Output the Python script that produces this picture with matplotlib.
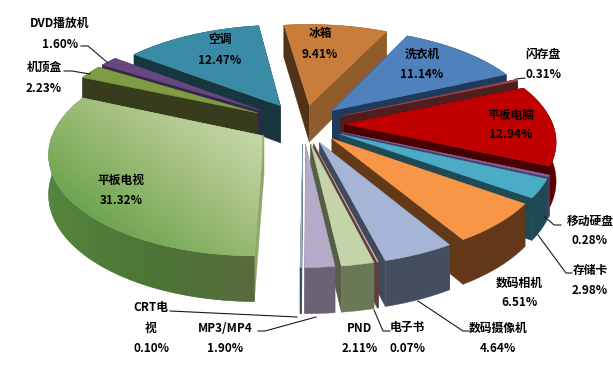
import numpy as np
import matplotlib
matplotlib.use("Agg")
import matplotlib.pyplot as plt
from matplotlib.patches import Polygon
from matplotlib.colors import LinearSegmentedColormap

plt.rcParams['font.family'] = ['Noto Sans CJK SC', 'DejaVu Sans']

categories = ['冰箱', '洗衣机', '闪存盘', '平板电脑', '移动硬盘', '存储卡', '数码相机', '数码摄像机',
              '电子书', 'PND', 'MP3/MP4', 'CRT电视', '平板电视', '机顶盒', 'DVD播放机', '空调']
values = [9.41, 11.14, 0.31, 12.94, 0.28, 2.98, 6.51, 4.64, 0.07, 2.11, 1.90, 0.10, 31.32, 2.23, 1.60, 12.47]
explode = [0.2, 0.2, 0.2, 0.2, 0.2, 0.2, 0.2, 0.2, 0.2, 0.2, 0.2, 0.2, 0.22, 0.25, 0.25, 0.22]
top_colors = ['#c87d3a', '#4f81bd', '#a04545', '#c00000', '#8064a2', '#4bacc6', '#f79646', '#a6b5d6',
              '#e0b0b0', '#c4d3a8', '#b5abc9', '#9db5d0', '#9aba78', '#7f9c45', '#64487f', '#3a8ba6']
face_colors = ['#4f3218', '#1f3a5f', '#4f1f1f', '#4a0000', '#4d3a66', '#1f4a55', '#63391a', '#3f4a5a',
               '#5e4040', '#555e47', '#6a6275', '#3a4a60', '#8fa868', '#363c1c', '#33264a', '#17363f']
end_face_colors = ['#8f5c2c', '#1f3a5f', '#4f1f1f', '#4a0000', '#4d3a66', '#1f4a55', '#63391a', '#3f4a5a',
                   '#5e4040', '#555e47', '#6a6275', '#3a4a60', '#8fa868', '#363c1c', '#33264a', '#17363f']
arc_colors = ['#8f5c2c', '#2a4a75', '#5a2525', '#5a0000', '#4d3a66', '#1f4a55', '#63391a', '#454e5e',
              '#5e4040', '#6b7857', '#6a6275', '#3a4a60', '#4f7838', '#363c1c', '#33264a', '#1c4350']

# label centres in pixels: (name lines, percent line)
label_pos = {
    '冰箱': (320, 33, 54), '洗衣机': (422, 54, 74), '闪存盘': (543, 54, 75), '平板电脑': (511, 115, 135),
    '移动硬盘': (590, 221, 241), '存储卡': (590, 270, 291), '数码相机': (519, 283, 303),
    '数码摄像机': (498, 328, 349), '电子书': (407, 327, 348), 'PND': (360, 328, 349),
    'MP3/MP4': (225, 328, 349), '平板电视': (121, 180, 201), '机顶盒': (44, 67, 88),
    'DVD播放机': (60, 23, 44), '空调': (220, 40, 61),
}
leaders = [
    [(81, 46), (88, 46), (108, 63)], [(64, 71), (72, 71), (90, 74)], [(516, 79), (525, 78)],
    [(544, 216), (554, 225), (561, 225)], [(538, 235), (566, 273), (572, 273)],
    [(418, 301), (463, 331), (470, 331)], [(374, 310), (383, 331), (390, 331)],
    [(258, 331), (265, 331), (316, 317)], [(170, 311), (297, 317)],
]

CX, CY, RX, RY, K, DEPTH = 303, 124, 208, 98, 0.15, 38


def project(u, v, z=0.0):
    """Map pie-plane coordinates to pixels; z is the depth below the top surface."""
    w = 1 + K * v
    return CX + RX * u / w, CY + (-RY * v + z) / w


fig = plt.figure(figsize=(6.13, 3.66), dpi=100)
ax = fig.add_axes([0, 0, 1, 1])
wedges, _ = ax.pie(values, explode=explode, startangle=98, counterclock=False, radius=1)
geom = [(w.theta1, w.theta2, w.center) for w in wedges]
for w in wedges:
    w.remove()
ax.set_aspect('auto')
ax.axis('off')

order = sorted(range(len(values)), key=lambda i: -np.sin(np.radians((geom[i][0] + geom[i][1]) / 2)))
z = 0


def band(au, av):
    return [project(a, b) for a, b in zip(au, av)] + \
           [project(a, b, DEPTH) for a, b in zip(au[::-1], av[::-1])]


for i in order:
    t1, t2, (c0, c1) = geom[i]
    th = np.radians(np.linspace(t1, t2, max(int(t2 - t1) * 2, 3)))
    au, av = c0 + np.cos(th), c1 + np.sin(th)
    front = np.sin(th) < 0
    # back part of the curved face
    if (~front).sum() >= 2:
        z += 1
        ax.add_patch(Polygon(band(au[~front], av[~front]), closed=True, fc=arc_colors[i],
                             ec=arc_colors[i], lw=0.3, zorder=z))
    # radial faces, far one first
    faces = []
    for k, (uu, vv) in enumerate(((au[0], av[0]), (au[-1], av[-1]))):
        q = [project(c0, c1), project(uu, vv), project(uu, vv, DEPTH), project(c0, c1, DEPTH)]
        faces.append(((c1 + vv) / 2, q, end_face_colors[i] if k == 0 else face_colors[i]))
    for _, q, col in sorted(faces, key=lambda f: -f[0]):
        z += 1
        ax.add_patch(Polygon(q, closed=True, fc=col, ec=col, lw=0.3, zorder=z))
    # front part of the curved face
    if front.sum() >= 2:
        z += 1
        arc = Polygon(band(au[front], av[front]), closed=True, fc=arc_colors[i],
                      ec=arc_colors[i], lw=0.3, zorder=z)
        ax.add_patch(arc)
        if categories[i] == '平板电视':
            z += 1
            cmap = LinearSegmentedColormap.from_list('s', ['#55873f', '#4b7535', '#5a6a3e'])
            im = ax.imshow(np.linspace(0, 1, 100)[None, :], cmap=cmap, extent=(40, 262, 310, 100),
                           aspect='auto', zorder=z, vmin=0, vmax=1)
            im.set_clip_path(arc)
    z += 1
    pts = [project(c0, c1)] + [project(a, b) for a, b in zip(au, av)]
    top = Polygon(pts, closed=True, fc=top_colors[i], ec=top_colors[i], lw=0.3, zorder=z)
    ax.add_patch(top)
    if categories[i] == '平板电视':
        z += 1
        cmap = LinearSegmentedColormap.from_list('g', ['#4f9440', '#7fae5e', '#a9c283', '#c8d9ae'])
        n = 200
        yy, xx = np.mgrid[0:1:n * 1j, 0:1:n * 1j]
        grad = np.clip(0.62 * xx + 0.6 * (1 - yy) - 0.1, 0, 1)
        im = ax.imshow(grad, cmap=cmap, extent=(40, 262, 260, 95), origin='upper',
                       aspect='auto', zorder=z, vmin=0, vmax=1)
        im.set_clip_path(top)
ax.set_xlim(0, 613)
ax.set_ylim(366, 0)
ax.set_aspect('auto')

for pts in leaders:
    xs, ys = zip(*pts)
    ax.plot(xs, ys, color='#1a1a1a', lw=0.8, zorder=z + 1)

fs = 8.5
for name, val in zip(categories, values):
    pct = f'{val:.2f}%'
    if name == 'CRT电视':
        ax.text(151, 308, 'CRT电', ha='center', va='center', fontsize=fs, fontweight='bold', zorder=z + 2)
        ax.text(151, 328, '视', ha='center', va='center', fontsize=fs, fontweight='bold', zorder=z + 2)
        ax.text(151, 348, pct, ha='center', va='center', fontsize=fs, fontweight='bold', zorder=z + 2)
        continue
    x, y1, y2 = label_pos[name]
    ax.text(x, y1, name, ha='center', va='center', fontsize=fs, fontweight='bold', zorder=z + 2)
    ax.text(x, y2, pct, ha='center', va='center', fontsize=fs, fontweight='bold', zorder=z + 2)

fig.savefig('out.png', dpi=100)
